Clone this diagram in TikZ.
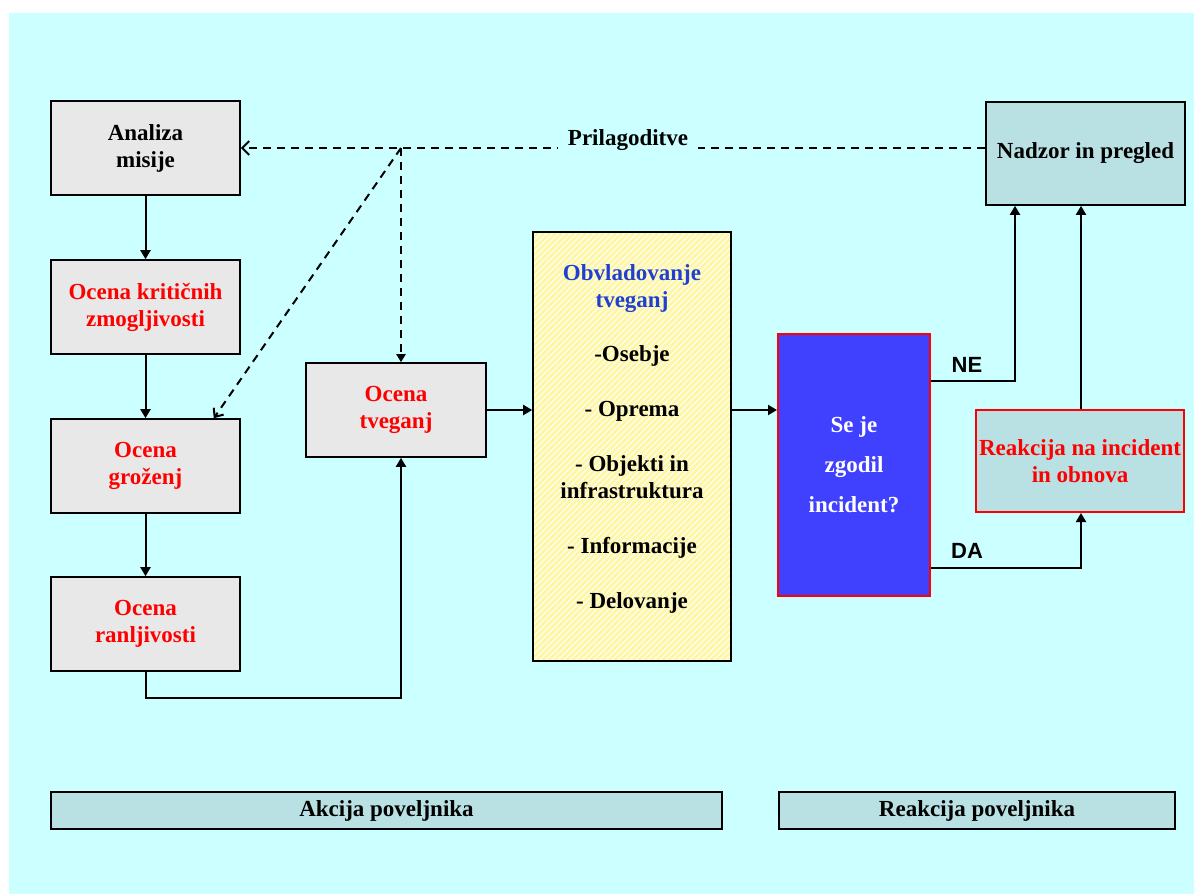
\documentclass[tikz,border=0pt]{standalone}
\usepackage{fontspec}
\setmainfont{Liberation Serif}
\setsansfont{Liberation Sans}
\usetikzlibrary{arrows.meta,patterns}
\definecolor{ozadje}{HTML}{CCFFFF}
\definecolor{sivo}{HTML}{E8E8E8}
\definecolor{turkiz}{HTML}{B9E0E3}
\definecolor{modra}{HTML}{4040FF}
\definecolor{modrotxt}{HTML}{2040D0}
\definecolor{rumeno}{HTML}{FFF7A8}
\begin{document}
\begin{tikzpicture}[x=0.5pt,y=-0.5pt,
  every node/.style={font=\bfseries\fontsize{11.5}{13.5}\selectfont, align=center, inner sep=0pt},
  korak/.style={draw, line width=0.8pt, fill=sivo, minimum width=94.5pt, minimum height=47pt},
  pas/.style={draw, line width=0.8pt, fill=turkiz, minimum height=18.5pt},
  puscica/.style={line width=1pt, -{Triangle[length=4.5pt,width=5pt]}},
  crtkano/.style={line width=1pt, dash pattern=on 4pt off 3pt},
  oznaka/.style={font=\sffamily\bfseries\fontsize{11}{12}\selectfont}]

% ozadje
\fill[white] (0,0) rectangle (1194,894);
\fill[ozadje] (9,13) rectangle (1194,894);

\node[korak] (analiza) at (145.5,148) {Analiza\\misije};
\node[korak, text=red] (kriticne) at (145.5,307) {Ocena kritičnih\\zmogljivosti};
\node[korak, text=red] (grozenj) at (145.5,466) {Ocena\\groženj};
\node[korak, text=red] (ranljivost) at (145.5,624) {Ocena\\ranljivosti};
\node[korak, text=red, minimum width=90pt] (tveganje) at (396,410) {Ocena\\tveganj};

\node[draw, line width=0.8pt, minimum width=99pt, minimum height=214.5pt,
  preaction={fill=rumeno}, pattern=north east lines, pattern color=white] (obvlad) at (632,446.5) {};
\node (obvladtxt) at (632,439) {\textcolor{modrotxt}{Obvladovanje}\\\textcolor{modrotxt}{tveganj}\\[13.5pt]
  -Osebje\\[14pt] - Oprema\\[14pt] - Objekti in\\infrastruktura\\[14pt] - Informacije\\[14pt] - Delovanje};

\node[draw=red, line width=1pt, fill=modra, text=white, minimum width=76pt, minimum height=131pt,
  font=\bfseries\fontsize{11.5}{20}\selectfont] (incident) at (854,465) {Se je\\zgodil\\incident?};
\node[draw, line width=0.8pt, fill=turkiz, minimum width=99.5pt, minimum height=51.5pt] (nadzor) at (1085.5,153.5) {Nadzor in pregled};
\node[draw=red, line width=1pt, fill=turkiz, text=red, minimum width=104pt, minimum height=51pt] (reakcija) at (1080,461) {Reakcija na incident\\in obnova};

\node[pas, minimum width=335.5pt] (akcija) at (386.5,810.5) {Akcija poveljnika};
\node[pas, minimum width=198pt] (reakpas) at (977,810.5) {Reakcija poveljnika};

%	povezave
\coordinate (razcep) at (401,148);
\coordinate (dol) at (401,698);
\coordinate (ne) at (1015,381);
\coordinate (da) at (1081,568);

\draw[puscica] (analiza) -- (kriticne);
\draw[puscica] (kriticne) -- (grozenj);
\draw[puscica] (grozenj) -- (ranljivost);
\draw[puscica] (ranljivost.south) |- (dol) -- (dol |- tveganje.south);
\draw[puscica] (tveganje.east) -- (obvlad.west |- tveganje);
\draw[puscica] (obvlad.east |- tveganje) -- (incident.west |- tveganje);
\draw[puscica] (incident.east |- ne) -| (nadzor.south -| ne);
\draw[puscica] (incident.east |- da) -| (reakcija.south -| da);
\draw[puscica] (reakcija.north -| da) -- (nadzor.south -| da);

\draw[crtkano, -{Straight Barb[length=3.5pt,width=7pt]}] (razcep -| nadzor.west) -- (analiza.east);
\draw[crtkano, -{Triangle[length=4pt,width=4.5pt]}] (razcep) -- (razcep |- tveganje.north);
\draw[crtkano, -{Straight Barb[length=3.5pt,width=6pt]}] (razcep) -- ([xshift=-13.5pt]grozenj.north east);

\node[fill=ozadje, inner xsep=5pt, inner ysep=2pt] (prilagoditve) at (628,140) {Prilagoditve};
\node[oznaka] (ne-txt) at (967,365) {NE};
\node[oznaka] (da-txt) at (967,551) {DA};

\end{tikzpicture}
\end{document}
